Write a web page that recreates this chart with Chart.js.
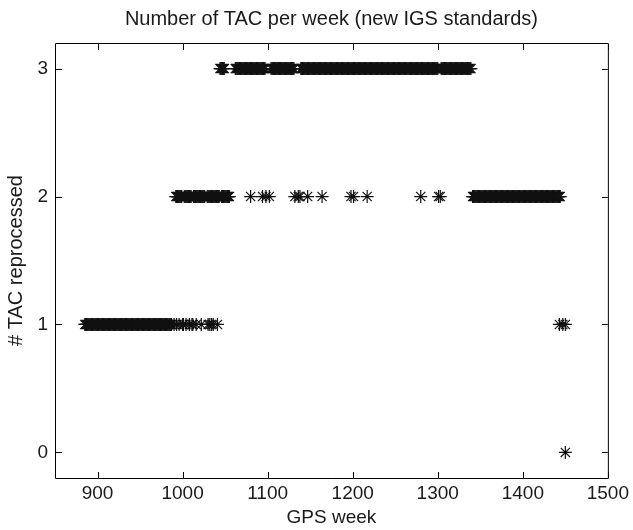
<!DOCTYPE html>
<html>
<head>
<meta charset="utf-8">
<script src="https://cdn.jsdelivr.net/npm/chart.js@4.4.1/dist/chart.umd.min.js"></script>
<style>
  html, body { margin: 0; padding: 0; background: #fff; }
  canvas { display: block; }
</style>
</head>
<body>
<canvas id="tac-chart" width="633" height="530"></canvas>
<script>
// GPS weeks for each number of TAC reprocessed
const weeksTac0 = [1450];

const weeksTac1 = [
    885, 886, 887, 888, 889, 890, 891, 892, 893, 894,
    895, 896, 897, 898, 899, 900, 901, 902, 903, 904,
    905, 906, 907, 908, 909, 910, 911, 912, 913, 914,
    915, 916, 917, 918, 919, 920, 921, 922, 923, 924,
    925, 926, 927, 928, 929, 930, 931, 932, 933, 934,
    935, 936, 937, 938, 939, 940, 941, 942, 943, 944,
    945, 946, 947, 948, 949, 950, 951, 952, 953, 954,
    955, 956, 957, 958, 959, 960, 961, 962, 963, 964,
    965, 966, 967, 968, 969, 970, 971, 972, 973, 974,
    975, 976, 977, 978, 979, 980, 981, 982, 983, 984,
    985, 986, 987,
    990, 993, 996, 1000, 1001, 1004, 1008, 1011, 1012, 1016,
    1022, 1030, 1032, 1034, 1036, 1041,
    1443, 1447, 1450
];

const weeksTac2 = [
    992, 993, 994, 995, 996, 997, 998, 999,
    1002, 1003, 1004, 1005, 1006, 1007, 1008, 1009, 1010,
    1013, 1014, 1015, 1016, 1017, 1018, 1019, 1020, 1021, 1022, 1023, 1024, 1025, 1026,
    1029, 1030, 1031, 1032, 1033, 1034, 1035, 1036, 1037, 1038, 1039, 1040, 1041, 1042, 1043,
    1046, 1047, 1048, 1049, 1050, 1051, 1052, 1053, 1054, 1055,
    1080, 1094, 1098, 1102, 1132, 1136, 1138, 1147, 1164,
    1198, 1201, 1217, 1280, 1301, 1303,
    1341, 1342, 1343, 1344, 1345, 1346, 1347, 1348, 1349, 1350,
    1351, 1352, 1353, 1354, 1355, 1356, 1357, 1358, 1359, 1360,
    1361, 1362, 1363, 1364, 1365, 1366, 1367, 1368, 1369, 1370,
    1371, 1372, 1373, 1374, 1375, 1376, 1377, 1378, 1379, 1380,
    1381, 1382, 1383, 1384, 1385, 1386, 1387, 1388, 1389, 1390,
    1391, 1392, 1393, 1394, 1395, 1396, 1397, 1398, 1399, 1400,
    1401, 1402, 1403, 1404, 1405, 1406, 1407, 1408, 1409, 1410,
    1411, 1412, 1413, 1414, 1415, 1416, 1417, 1418, 1419, 1420,
    1421, 1422, 1423, 1424, 1425, 1426, 1427, 1428, 1429, 1430,
    1431, 1432, 1433, 1434, 1435, 1436, 1437, 1438, 1439, 1440,
    1441, 1442, 1443, 1444
];

const weeksTac3 = [
    1044, 1045, 1046, 1047, 1048, 1049,
    1062, 1063, 1064, 1065, 1066, 1067, 1068, 1069, 1070, 1071,
    1072, 1073, 1074, 1075, 1076, 1077, 1078, 1079, 1080, 1081,
    1082, 1083, 1084, 1085, 1086, 1087, 1088, 1089, 1090, 1091,
    1092, 1093, 1094, 1095, 1096, 1097,
    1104, 1105, 1106, 1107, 1108, 1109, 1110, 1111, 1112, 1113,
    1114, 1115, 1116, 1117, 1118, 1119, 1120, 1121, 1122, 1123,
    1124, 1125, 1126, 1127, 1128, 1129, 1130, 1131,
    1139, 1140, 1141, 1142, 1143, 1144, 1145, 1146, 1147, 1148,
    1149, 1150, 1151, 1152, 1153, 1154, 1155, 1156, 1157, 1158,
    1159, 1160, 1161, 1162, 1163, 1164, 1165, 1166, 1167, 1168,
    1169, 1170, 1171, 1172, 1173, 1174, 1175, 1176, 1177, 1178,
    1179, 1180, 1181, 1182, 1183, 1184, 1185, 1186, 1187, 1188,
    1189, 1190, 1191, 1192, 1193, 1194, 1195, 1196, 1197, 1198,
    1199, 1200, 1201, 1202, 1203, 1204, 1205, 1206, 1207, 1208,
    1209, 1210, 1211, 1212, 1213, 1214, 1215, 1216, 1217, 1218,
    1219, 1220, 1221, 1222, 1223, 1224, 1225, 1226, 1227, 1228,
    1229, 1230, 1231, 1232, 1233, 1234, 1235, 1236, 1237, 1238,
    1239, 1240, 1241, 1242, 1243, 1244, 1245, 1246, 1247, 1248,
    1249, 1250, 1251, 1252, 1253, 1254, 1255, 1256, 1257, 1258,
    1259, 1260, 1261, 1262, 1263, 1264, 1265, 1266, 1267, 1268,
    1269, 1270, 1271, 1272, 1273, 1274, 1275, 1276, 1277, 1278,
    1279, 1280, 1281, 1282, 1283, 1284, 1285, 1286, 1287, 1288,
    1289, 1290, 1291, 1292, 1293, 1294, 1295, 1296, 1297, 1298,
    1299, 1300,
    1304, 1305, 1306, 1307, 1308, 1309, 1310, 1311, 1312, 1313,
    1314, 1315, 1316, 1317, 1318, 1319, 1320, 1321, 1322, 1323,
    1324, 1325, 1326, 1327, 1328, 1329, 1330, 1331, 1332, 1333,
    1334, 1335, 1336, 1337, 1338, 1339
];

const tacCounts = [0, 1, 2, 3];
const weeksByCount = [weeksTac0, weeksTac1, weeksTac2, weeksTac3];

// Axis ticks
const xTickValues = [900, 1000, 1100, 1200, 1300, 1400, 1500];
const yTickValues = [0, 1, 2, 3];

const CHART_TITLE = 'Number of TAC per week (new IGS standards)';
const TEXT_COLOR = '#1a1a1a';
const FONT_FAMILY = '"Liberation Sans", Arial, Helvetica, sans-serif';
const TICK_LEN = 6;

// MATLAB style box with inward ticks on all four sides, title centred over the axes
const matlabBox = {
    id: 'matlabBox',
    afterDraw(chart) {
        const { ctx, chartArea: a, scales } = chart;
        const xs = scales.x;
        const ys = scales.y;
        ctx.save();
        ctx.strokeStyle = '#000';
        ctx.lineWidth = 1;
        ctx.beginPath();
        ctx.rect(a.left + 0.5, a.top + 0.5, a.right - a.left, a.bottom - a.top);
        xTickValues.forEach(v => {
            const px = Math.round(xs.getPixelForValue(v)) + 0.5;
            ctx.moveTo(px, a.bottom);
            ctx.lineTo(px, a.bottom - TICK_LEN);
            ctx.moveTo(px, a.top + 1);
            ctx.lineTo(px, a.top + 1 + TICK_LEN);
        });
        yTickValues.forEach(v => {
            const py = Math.round(ys.getPixelForValue(v)) + 0.5;
            ctx.moveTo(a.left + 1, py);
            ctx.lineTo(a.left + 1 + TICK_LEN, py);
            ctx.moveTo(a.right, py);
            ctx.lineTo(a.right - TICK_LEN, py);
        });
        ctx.stroke();

        ctx.fillStyle = TEXT_COLOR;
        ctx.font = '20px ' + FONT_FAMILY;
        ctx.textAlign = 'center';
        ctx.textBaseline = 'middle';
        ctx.fillText(CHART_TITLE, (a.left + a.right) / 2, 19);
        ctx.restore();
    }
};

const datasets = tacCounts.map((count, i) => ({
    label: count + ' TAC',
    data: weeksByCount[i].map(w => ({ x: w, y: count })),
    pointStyle: 'star',
    pointRadius: 6.5,
    pointBorderWidth: 1.2,
    borderColor: '#111',
    backgroundColor: '#111',
    showLine: false
}));

new Chart(document.getElementById('tac-chart'), {
    type: 'scatter',
    data: { datasets: datasets },
    options: {
        responsive: false,
        animation: false,
        layout: {
            padding: { left: 0, right: 24, top: 43, bottom: 0 }
        },
        plugins: {
            legend: { display: false },
            tooltip: { enabled: false },
            title: { display: false }
        },
        scales: {
            x: {
                type: 'linear',
                min: 850,
                max: 1500,
                afterBuildTicks: s => { s.ticks = xTickValues.map(v => ({ value: v })); },
                afterFit: s => { s.height = 52; },
                grid: { display: false, drawTicks: false },
                border: { display: false },
                ticks: {
                    color: TEXT_COLOR,
                    font: { family: FONT_FAMILY, size: 19 },
                    padding: 4,
                    maxRotation: 0,
                    autoSkip: false,
                    callback: v => String(v)
                },
                title: {
                    display: true,
                    text: 'GPS week',
                    color: TEXT_COLOR,
                    font: { family: FONT_FAMILY, size: 19 },
                    padding: { top: 0, bottom: 1 }
                }
            },
            y: {
                type: 'linear',
                min: -0.2,
                max: 3.2,
                afterBuildTicks: s => { s.ticks = yTickValues.map(v => ({ value: v })); },
                afterFit: s => { s.width = 55; },
                grid: { display: false, drawTicks: false },
                border: { display: false },
                ticks: {
                    color: TEXT_COLOR,
                    font: { family: FONT_FAMILY, size: 19 },
                    padding: 7,
                    autoSkip: false,
                    callback: v => String(v)
                },
                title: {
                    display: true,
                    text: '# TAC reprocessed',
                    color: TEXT_COLOR,
                    font: { family: FONT_FAMILY, size: 20 },
                    padding: { top: 4, bottom: 0 }
                }
            }
        }
    },
    plugins: [matlabBox]
});
</script>
</body>
</html>
